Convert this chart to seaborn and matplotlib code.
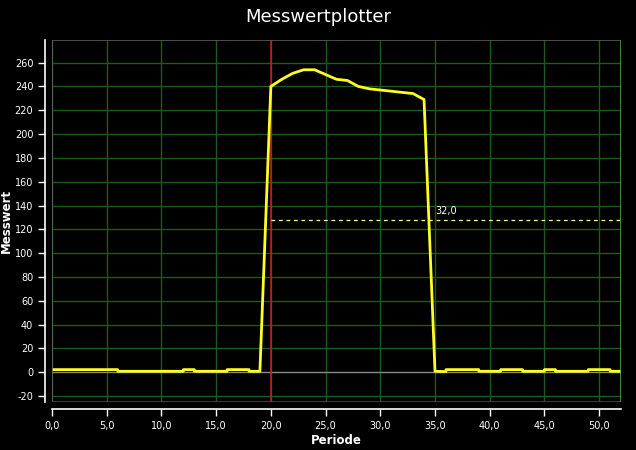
import numpy as np
import pandas as pd
import matplotlib
matplotlib.use('Agg')
import matplotlib.pyplot as plt
import seaborn as sns
from matplotlib.ticker import FuncFormatter, MultipleLocator

periode = [0, 6, 6.01, 12, 12.01, 13, 13.01, 16, 16.01, 18, 18.01, 19,
           20, 21, 22, 23, 24, 25, 26, 27, 28, 29, 30, 31, 32, 33, 34,
           35, 36, 36.01, 39, 39.01, 41, 41.01, 43, 43.01, 45, 45.01, 46, 46.01,
           49, 49.01, 51, 51.01, 52]
messwert = [2.2, 2.2, 0.8, 0.8, 2.2, 2.2, 0.8, 0.8, 2.2, 2.2, 0.8, 0.8,
            240, 246, 251, 254, 254, 250, 246, 245, 240, 238, 237, 236, 235, 234, 229,
            0.8, 0.5, 2.2, 2.2, 0.8, 0.8, 2.2, 2.2, 0.8, 0.8, 2.2, 2.2, 0.8,
            0.8, 2.2, 2.2, 0.8, 0.8]
marker_x = 20.0
level_y = 128
level_label = '32,0'

df = pd.DataFrame({'Periode': periode, 'Messwert': messwert})

sns.set_style('dark', {'axes.facecolor': 'black', 'figure.facecolor': 'black'})
plt.rcParams['font.family'] = ['DejaVu Sans']

fig = plt.figure(figsize=(6.36, 4.5), dpi=100)
ax = fig.add_axes([52 / 636, 1 - 402 / 450, (621 - 52) / 636, (402 - 40) / 450])
ax.set_facecolor('black')

# grid
ax.xaxis.set_major_locator(MultipleLocator(5))
ax.yaxis.set_major_locator(MultipleLocator(20))
ax.grid(True, color='#1d5a1d', linewidth=1.0)
ax.axhline(0, color='#8a8a8a', linewidth=0.9, zorder=2)

# marker line and level
ax.axvline(marker_x, color='#c02020', linewidth=1.1, zorder=3)
ax.plot([marker_x, 52], [level_y, level_y], color='#ffff99', linestyle=(0, (3, 3)), linewidth=0.9, zorder=3)
ax.text(35.0, level_y + 3, level_label, color='white', fontsize=7, va='bottom', ha='left')

# data line
sns.lineplot(data=df, x='Periode', y='Messwert', color='#ffff20', linewidth=2.0, ax=ax, zorder=4)

ax.set_xlim(0, 52)
ax.set_ylim(-25, 279)

ax.xaxis.set_major_formatter(FuncFormatter(lambda v, p: f'{v:.1f}'.replace('.', ',')))
ax.yaxis.set_major_formatter(FuncFormatter(lambda v, p: f'{int(v)}'))

# plot area border
ax.axhline(279, color='#5a5a5a', linewidth=1.2, zorder=5)
ax.axhline(-25, color='#4a4a4a', linewidth=1.2, zorder=5)
ax.axvline(0, color='#5a6a5a', linewidth=1.2, zorder=5)
ax.axvline(52, color='#4fa04f', linewidth=1.2, zorder=5)

for s in ['top', 'right']:
    ax.spines[s].set_visible(False)
for s in ['left', 'bottom']:
    ax.spines[s].set_visible(True)
    ax.spines[s].set_color('white')
    ax.spines[s].set_linewidth(1.2)
    ax.spines[s].set_position(('outward', 5))

ax.tick_params(axis='both', colors='white', labelsize=7, length=5, width=1, direction='out',
               bottom=True, left=True)

ax.set_xlabel('Periode', color='white', fontsize=8.5, fontweight='bold', labelpad=2)
ax.set_ylabel('Messwert', color='white', fontsize=8.5, fontweight='bold', labelpad=1)
fig.text(0.5, 1 - 17 / 450, 'Messwertplotter', color='white', fontsize=13, ha='center', va='center')

fig.savefig('out.png', dpi=100, facecolor='black')
